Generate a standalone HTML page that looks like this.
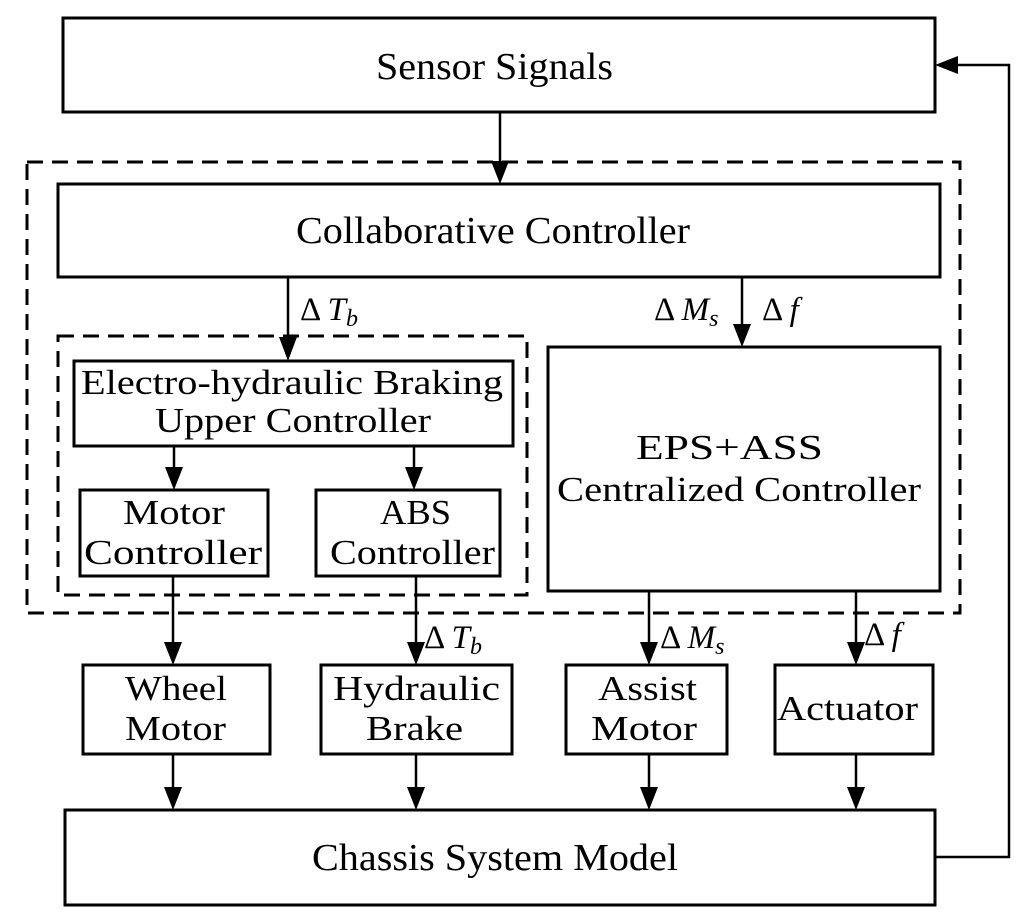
<!DOCTYPE html>
<html><head><meta charset="utf-8"><style>
html,body{margin:0;padding:0;background:#fff}
svg{display:block}
text{font-family:"Liberation Serif",serif;fill:#000}
</style></head><body>
<svg width="1024" height="922" viewBox="0 0 1024 922" xmlns="http://www.w3.org/2000/svg">
<g fill="none" stroke="#000" stroke-width="3">
<rect x="63" y="18" width="872" height="94"/>
<rect x="58" y="184" width="882" height="93"/>
<rect x="74" y="361" width="439" height="85"/>
<rect x="80" y="490" width="188" height="86"/>
<rect x="316" y="490" width="184" height="86"/>
<rect x="548" y="347" width="392" height="244"/>
<rect x="83" y="665" width="187" height="89"/>
<rect x="321" y="665" width="191" height="89"/>
<rect x="566" y="665" width="161" height="89"/>
<rect x="775" y="665" width="158" height="89"/>
<rect x="65" y="810" width="870" height="95"/>
<rect x="27" y="162" width="933" height="451" stroke-dasharray="16,9"/>
<rect x="58" y="336" width="469" height="259" stroke-dasharray="16,9"/>
</g>
<g stroke="#000" stroke-width="2.5" fill="none">
<line x1="500" y1="112" x2="500" y2="165"/>
<line x1="288" y1="277" x2="288" y2="340"/>
<line x1="742" y1="277" x2="742" y2="328"/>
<line x1="174" y1="446" x2="174" y2="472"/>
<line x1="414" y1="446" x2="414" y2="472"/>
<line x1="173" y1="576" x2="173" y2="647"/>
<line x1="416" y1="576" x2="416" y2="647"/>
<line x1="649" y1="591" x2="649" y2="647"/>
<line x1="856" y1="591" x2="856" y2="647"/>
<line x1="173" y1="754" x2="173" y2="792"/>
<line x1="416" y1="754" x2="416" y2="792"/>
<line x1="649" y1="754" x2="649" y2="792"/>
<line x1="856" y1="754" x2="856" y2="792"/>
<polyline points="935,857 1009,857 1009,65 953,65"/>
</g>
<g fill="#000">
<polygon points="491,161 509,161 500,184"/>
<polygon points="279,337 297,337 288,361"/>
<polygon points="733,324 751,324 742,347"/>
<polygon points="165,467 183,467 174,490"/>
<polygon points="405,467 423,467 414,490"/>
<polygon points="164,642 182,642 173,665"/>
<polygon points="407,642 425,642 416,665"/>
<polygon points="640,642 658,642 649,665"/>
<polygon points="847,642 865,642 856,665"/>
<polygon points="164,787 182,787 173,810"/>
<polygon points="407,787 425,787 416,810"/>
<polygon points="640,787 658,787 649,810"/>
<polygon points="847,787 865,787 856,810"/>
<polygon points="935,65 958,56 958,74"/>
</g>
<g font-size="38" text-anchor="start">
<text x="376" y="79" textLength="237" lengthAdjust="spacingAndGlyphs">Sensor Signals</text>
<text x="296" y="243" textLength="394" lengthAdjust="spacingAndGlyphs">Collaborative Controller</text>
<text x="312" y="870" textLength="366" lengthAdjust="spacingAndGlyphs">Chassis System Model</text>
</g>
<g font-size="35" text-anchor="start">
<text x="81" y="394" textLength="422" lengthAdjust="spacingAndGlyphs">Electro-hydraulic Braking</text>
<text x="155" y="432" textLength="276" lengthAdjust="spacingAndGlyphs">Upper Controller</text>
<text x="123" y="524" textLength="102" lengthAdjust="spacingAndGlyphs">Motor</text>
<text x="84" y="564" textLength="178" lengthAdjust="spacingAndGlyphs">Controller</text>
<text x="380" y="524" textLength="71" lengthAdjust="spacingAndGlyphs">ABS</text>
<text x="330" y="564" textLength="165" lengthAdjust="spacingAndGlyphs">Controller</text>
<text x="636" y="459" textLength="187" lengthAdjust="spacingAndGlyphs">EPS+ASS</text>
<text x="557" y="501" textLength="364" lengthAdjust="spacingAndGlyphs">Centralized Controller</text>
<text x="125" y="700" textLength="102" lengthAdjust="spacingAndGlyphs">Wheel</text>
<text x="125" y="740" textLength="101" lengthAdjust="spacingAndGlyphs">Motor</text>
<text x="333" y="700" textLength="167" lengthAdjust="spacingAndGlyphs">Hydraulic</text>
<text x="366" y="740" textLength="97" lengthAdjust="spacingAndGlyphs">Brake</text>
<text x="598" y="700" textLength="99" lengthAdjust="spacingAndGlyphs">Assist</text>
<text x="591" y="740" textLength="106" lengthAdjust="spacingAndGlyphs">Motor</text>
<text x="777" y="720" textLength="141" lengthAdjust="spacingAndGlyphs">Actuator</text>
</g>
<g font-size="33">
<text x="300" y="320">Δ <tspan font-style="italic">T</tspan><tspan font-style="italic" font-size="24" dy="6">b</tspan></text>
<text x="654" y="320">Δ <tspan font-style="italic">M</tspan><tspan font-style="italic" font-size="24" dy="6">s</tspan></text>
<text x="762" y="320">Δ <tspan font-style="italic">f</tspan></text>
<text x="424" y="648">Δ <tspan font-style="italic">T</tspan><tspan font-style="italic" font-size="24" dy="6">b</tspan></text>
<text x="660" y="648">Δ <tspan font-style="italic">M</tspan><tspan font-style="italic" font-size="24" dy="6">s</tspan></text>
<text x="864" y="645">Δ <tspan font-style="italic">f</tspan></text>
</g>
</svg>
</body></html>
